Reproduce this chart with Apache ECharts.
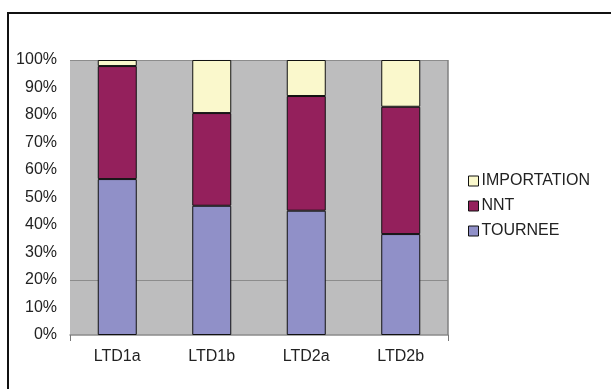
<!DOCTYPE html>
<html>
<head>
<meta charset="utf-8">
<script src="https://cdn.jsdelivr.net/npm/echarts@6/dist/echarts.min.js"></script>
<style>
  html, body { margin: 0; padding: 0; background: #fff; }
  #chart { width: 611px; height: 389px; }
</style>
</head>
<body>
<div id="chart"></div>
<script>
var categories = ['LTD1a', 'LTD1b', 'LTD2a', 'LTD2b'];
var tournee = [56.7, 47.0, 45.2, 36.7];
var nnt = [41.1, 33.7, 41.7, 46.3];
var importation = [2.2, 19.3, 13.1, 17.0];
var yTicks = [0, 10, 20, 30, 40, 50, 60, 70, 80, 90, 100];

var chart = echarts.init(document.getElementById('chart'));

// gridline colours: only 20% and 100% show in the picture
var gridColors = yTicks.map(function (v) {
    return (v === 20 || v === 100) ? '#8c8c8c' : 'rgba(0,0,0,0)';
});

var option = {
    animation: false,
    textStyle: { fontFamily: 'Liberation Sans, Arial, sans-serif' },
    graphic: [
        {
            type: 'rect',
            shape: { x: 8, y: 13, width: 700, height: 500 },
            style: { fill: 'none', stroke: '#111', lineWidth: 2 },
            z: 100
        },
        {
            // darker right edge of the plot area
            type: 'line',
            shape: { x1: 448, y1: 60, x2: 448, y2: 335 },
            style: { stroke: '#808080', lineWidth: 1.5 },
            z: 1
        }
    ],
    legend: {
        data: ['IMPORTATION', 'NNT', 'TOURNEE'],
        orient: 'vertical',
        left: 468,
        top: 173,
        padding: 0,
        itemWidth: 10,
        itemHeight: 10,
        itemGap: 9,
        icon: 'rect',
        itemStyle: { borderColor: '#111', borderWidth: 1 },
        textStyle: { fontSize: 16, color: '#222', padding: [0, 0, 0, -2] }
    },
    grid: {
        left: 70,
        right: 163,
        top: 60,
        bottom: 54,
        show: true,
        backgroundColor: '#bdbdbe',
        borderWidth: 0
    },
    xAxis: {
        type: 'category',
        data: categories,
        axisLine: { lineStyle: { color: '#8c8c8c', width: 1.5 } },
        axisTick: {
            show: true,
            length: 6,
            interval: function (index) { return index === 1; },
            lineStyle: { color: '#777' }
        },
        axisLabel: { fontSize: 16, color: '#222', margin: 14 }
    },
    yAxis: {
        type: 'value',
        min: 0,
        max: 100,
        interval: 10,
        axisLine: { show: false },
        axisTick: { show: false },
        axisLabel: { fontSize: 16, color: '#222', margin: 13, formatter: '{value}%' },
        splitLine: { show: true, lineStyle: { color: gridColors, width: 1 } }
    },
    series: [
        {
            name: 'TOURNEE',
            type: 'bar',
            stack: 'total',
            barWidth: 39,
            data: tournee,
            itemStyle: { color: '#9090c8', borderColor: '#111', borderWidth: 1 }
        },
        {
            name: 'NNT',
            type: 'bar',
            stack: 'total',
            barWidth: 39,
            data: nnt,
            itemStyle: { color: '#94205c', borderColor: '#111', borderWidth: 1 }
        },
        {
            name: 'IMPORTATION',
            type: 'bar',
            stack: 'total',
            barWidth: 39,
            data: importation,
            itemStyle: { color: '#faf8cc', borderColor: '#111', borderWidth: 1 }
        }
    ]
};

chart.setOption(option);
window.addEventListener('resize', function () {
    chart.resize();
});
</script>
</body>
</html>
